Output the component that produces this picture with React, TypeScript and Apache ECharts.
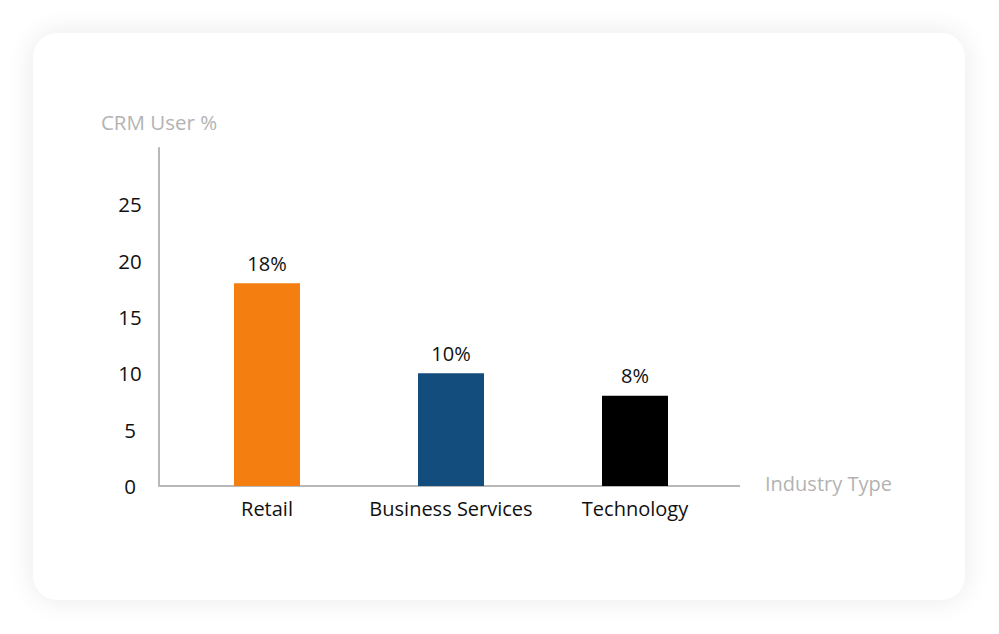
import React, { useEffect, useRef } from "react";
import * as echarts from "echarts";

const categories = ["Retail", "Business Services", "Technology"];
const values = [18, 10, 8];
const barColors = ["#F47E10", "#134D7E", "#000000"];
const yTicks = [0, 5, 10, 15, 20, 25];

export default function App() {
  const ref = useRef<HTMLDivElement>(null);
  useEffect(() => {
    if (!ref.current) return;
    const chart = echarts.init(ref.current, null, { renderer: "svg" });
    const font = "Open Sans";
    const axisGray = "#b8b8b8";
    chart.setOption({
      animation: false,
      grid: { left: 175, right: 272, top: 148, bottom: 148 },
      graphic: [
        {
          type: "line",
          shape: { x1: 159, y1: 486, x2: 740, y2: 486 },
          style: { stroke: axisGray, lineWidth: 2 },
          z: 1,
        },
        {
          type: "text",
          x: 765,
          y: 483,
          style: {
            text: "Industry Type",
            fill: "#b3b3b3",
            font: "20px 'Open Sans'",
            textAlign: "left",
            textVerticalAlign: "middle",
          },
        },
      ],
      xAxis: {
        type: "category",
        data: categories,
        axisLine: { show: false },
        axisTick: { show: false },
        axisLabel: { color: "#111", fontSize: 20, fontFamily: font, margin: 12, interval: 0 },
      },
      yAxis: {
        type: "value",
        min: 0,
        max: 30,
        interval: 5,
        offset: 16,
        name: "CRM User %",
        nameLocation: "end",
        nameGap: 16,
        nameTextStyle: { color: "#b3b3b3", fontSize: 20.5, fontFamily: font, align: "center" },
        axisLine: { show: true, lineStyle: { color: axisGray, width: 2 } },
        axisTick: { show: false },
        splitLine: { show: false },
        axisLabel: {
          color: "#111",
          fontSize: 20.5,
          fontFamily: font,
          align: "center",
          margin: 29,
          showMaxLabel: false,
          formatter: (v: number) => (yTicks.includes(v) ? String(v) : ""),
        },
      },
      series: [
        {
          type: "bar",
          barWidth: 66,
          data: values.map((v, i) => ({ value: v, itemStyle: { color: barColors[i] } })),
          label: {
            show: true,
            position: "top",
            distance: 10,
            color: "#111",
            fontSize: 20,
            fontFamily: font,
            formatter: (p: any) => p.value + "%",
          },
        },
      ],
    });
    return () => chart.dispose();
  }, []);
  return (
    <div style={{ position: "absolute", left: 0, top: 0, width: 999, height: 634, background: "#ffffff", overflow: "hidden" }}>
      <div
        style={{
          position: "absolute",
          left: 33,
          top: 33,
          width: 932,
          height: 567,
          borderRadius: 24,
          background: "#ffffff",
          boxShadow: "0 0 28px rgba(0,0,0,0.09)",
        }}
      />
      <div ref={ref} style={{ position: "absolute", left: 0, top: 0, width: 999, height: 634 }} />
    </div>
  );
}
